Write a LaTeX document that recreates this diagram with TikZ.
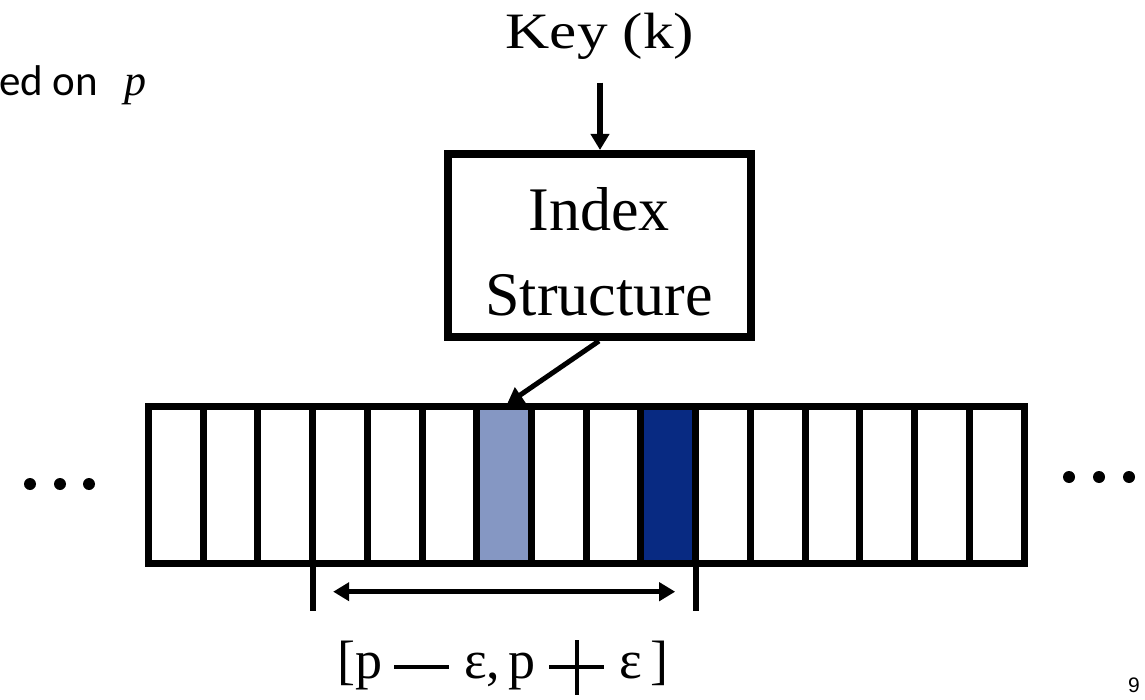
\documentclass[tikz,border=0pt]{standalone}
\usepackage{graphicx}
\usepackage{fontspec}
\setmainfont{Liberation Serif}
\newfontfamily\carlitofont{Carlito}
\newfontfamily\arialfont{Liberation Sans}
\usetikzlibrary{arrows.meta}
\definecolor{lightcell}{RGB}{133,151,195}
\definecolor{darkcell}{RGB}{8,42,130}
\newcommand{\opminus}{\rule[8.75pt]{55pt}{4.5pt}}
\newcommand{\opplus}{\ooalign{\rule[8.75pt]{55pt}{4.5pt}\cr\hidewidth\rule[-16.5pt]{4.5pt}{55pt}\hidewidth\cr}}
\begin{document}
\begin{tikzpicture}[x=1pt,y=-1pt,
  cellbox/.style={draw=black, line width=7pt, minimum width=54.72pt, minimum height=157pt, outer sep=0pt, inner sep=0pt},
  idxbox/.style={draw=black, line width=8pt, minimum width=303pt, minimum height=183pt, inner sep=0pt},
  arr/.style={line width=5.5pt, -{Triangle[length=16pt,width=18pt]}},
  dblarr/.style={line width=4.5pt, {Triangle[length=16pt,width=18pt]}-{Triangle[length=16pt,width=18pt]}},
  tickline/.style={line width=6pt},
  dotmark/.style={fill=black}
]
\useasboundingbox (0,0) rectangle (1145,700);

% top-left cropped note
\node[anchor=base west, inner sep=0pt] (note) at (-1,96)
  {{\carlitofont\fontsize{43}{50}\selectfont ed on}\hspace{26pt}{\fontsize{44}{50}\selectfont\itshape p}};

% key
\node[anchor=base, inner sep=0pt, font=\fontsize{51}{60}\selectfont] (key) at (600,48.3)
  {\scalebox{1.2}[1]{Key (k)}};

% index structure box
\node[idxbox] (idx) at (599,245.5) {};
\node[align=center, inner sep=0pt, font=\fontsize{62}{85}\selectfont] (idxlabel) at (599,252) {Index\\Structure};

% array cells
\foreach \i in {0,...,5,7,8,10,11,12,13,14,15}
  \node[cellbox] (c\i) at ({148.5+54.72*(\i+0.5)},484.5) {};
\node[cellbox, fill=lightcell] (c6) at ({148.5+54.72*6.5},484.5) {};
\node[cellbox, fill=darkcell] (c9) at ({148.5+54.72*9.5},484.5) {};

% arrows
\draw[arr, shorten <=23pt] (key.south) -- (key.south |- idx.north);
\draw[arr, line width=5pt, shorten >=3.5pt] (idx.south) -- (c6.north);

% range ticks and double arrow
\draw[tickline] (c3.south west) -- ++(0,48);
\draw[tickline] (c10.south west) -- ++(0,48);
\path (c3.south west) ++(0,28.7) coordinate (rangeL);
\path (c10.south west) ++(0,28.7) coordinate (rangeR);
\draw[dblarr, shorten <=20.5pt, shorten >=20.5pt] (rangeL) -- (rangeR);

% range label
\node[anchor=base west, inner sep=0pt, font=\fontsize{54}{60}\selectfont] (range) at (337,678)
  {[p\hspace{12pt}\opminus\hspace{15pt}ε,\hspace{8pt}p\hspace{14pt}\opplus\hspace{15pt}ε\hspace{8pt}]};

% ellipses
\fill[dotmark] (30,484) circle (6pt);
\fill[dotmark] (60,484) circle (6pt);
\fill[dotmark] (89,484) circle (6pt);
\fill[dotmark] (1069,477) circle (6pt);
\fill[dotmark] (1099,477) circle (6pt);
\fill[dotmark] (1129,477) circle (6pt);

% page number
\node[anchor=base east, inner sep=0pt, font=\arialfont\fontsize{21}{24}\selectfont] (pagenum) at (1140,692) {9};
\end{tikzpicture}
\end{document}
